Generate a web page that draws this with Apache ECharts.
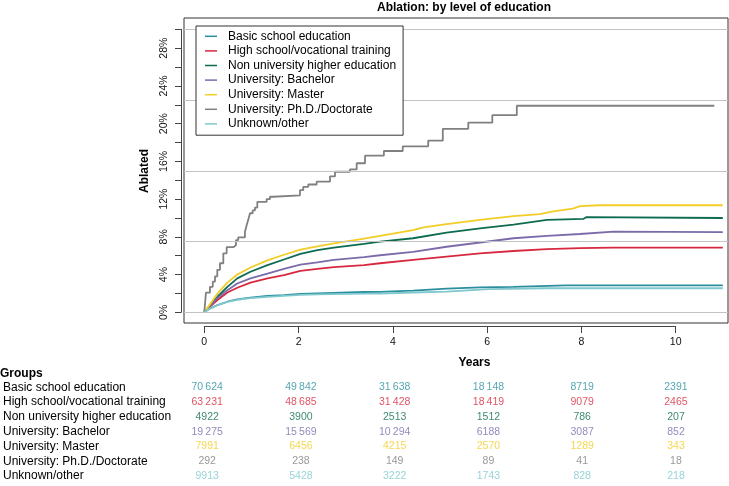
<!DOCTYPE html>
<html>
<head>
<meta charset="utf-8">
<script src="https://cdn.jsdelivr.net/npm/echarts@6/dist/echarts.min.js"></script>
<style>html,body{margin:0;padding:0;background:#fff}#c{width:729px;height:486px}</style>
</head>
<body>
<div id="c"></div>
<script>
// ---------- data ----------
const GROUPS = ['Basic school education','High school/vocational training','Non university higher education','University: Bachelor','University: Master','University: Ph.D./Doctorate','Unknown/other'];
const COLORS = ['#2A8E9E','#D7283F','#0D6B50','#7B6BAA','#F2CD25','#808080','#7FC8CD'];

const basic = [[0,0],[0.1,0.35],[0.28,0.77],[0.49,1.12],[0.7,1.38],[0.98,1.55],[1.34,1.73],[1.69,1.83],[2.04,1.95],[2.4,2.0],[3.39,2.15],[3.73,2.17],[4.43,2.3],[5.14,2.5],[5.85,2.65],[6.56,2.7],[7.67,2.85],[11.0,2.85]];
const high = [[0,0],[0.1,0.5],[0.28,1.3],[0.49,2.1],[0.7,2.6],[0.98,3.15],[1.34,3.6],[1.69,3.95],[2.04,4.4],[2.4,4.6],[2.75,4.8],[3.39,5.0],[3.73,5.2],[4.43,5.55],[5.14,5.9],[5.85,6.25],[6.56,6.5],[7.27,6.7],[7.97,6.8],[8.68,6.85],[11.0,6.85]];
const nonUni = [[0,0],[0.1,0.6],[0.28,1.65],[0.49,2.7],[0.7,3.6],[0.98,4.3],[1.34,5.0],[1.69,5.6],[2.04,6.2],[2.4,6.6],[2.75,6.85],[3.39,7.25],[3.73,7.5],[4.43,7.85],[5.14,8.45],[5.85,8.9],[6.56,9.3],[7.27,9.8],[8.04,9.9],[8.11,10.1],[11.0,10.0]];
const bachelor = [[0,0],[0.1,0.55],[0.28,1.5],[0.49,2.35],[0.7,3.05],[0.98,3.6],[1.34,4.1],[1.69,4.6],[2.04,5.05],[2.4,5.3],[2.75,5.55],[3.39,5.85],[3.73,6.05],[4.43,6.4],[5.14,6.95],[5.85,7.4],[6.56,7.85],[7.27,8.1],[7.97,8.3],[8.68,8.55],[11.0,8.5]];
const master = [[0,0],[0.1,0.7],[0.28,2.0],[0.49,3.15],[0.7,4.0],[0.98,4.75],[1.34,5.5],[1.69,6.1],[2.04,6.65],[2.4,7.0],[2.75,7.3],[3.39,7.8],[3.73,8.1],[4.43,8.7],[4.65,9.0],[5.14,9.35],[5.85,9.8],[6.56,10.2],[7.12,10.4],[7.4,10.7],[7.82,11.0],[7.97,11.25],[8.39,11.35],[11.0,11.35]];
const phd = [[0,0],[0.036,2.08],[0.12,2.7],[0.18,3.25],[0.227,3.8],[0.276,4.5],[0.333,5.2],[0.404,6.25],[0.475,6.9],[0.616,7.1],[0.672,7.66],[0.72,7.95],[0.863,8.55],[0.9,9.25],[0.933,9.8],[0.97,10.5],[1.026,10.8],[1.075,11.1],[1.125,11.7],[1.323,12.0],[1.394,12.25],[1.465,12.4],[2.03,12.95],[2.1,13.3],[2.206,13.55],[2.384,13.85],[2.667,14.4],[2.773,14.9],[3.09,15.15],[3.233,15.8],[3.41,16.6],[3.81,17.1],[4.21,17.6],[4.75,18.2],[5.06,19.45],[5.6,20.1],[6.11,20.9],[6.63,21.9],[10.82,21.9]];
const unknown = [[0,0],[0.1,0.33],[0.28,0.75],[0.49,1.1],[0.7,1.33],[0.98,1.5],[1.34,1.63],[1.69,1.75],[2.04,1.85],[2.4,1.9],[3.39,1.97],[3.73,1.97],[4.43,2.1],[5.14,2.2],[6.04,2.45],[7.27,2.55],[11.0,2.55]];
const CURVES = [basic, high, nonUni, bachelor, master, phd, unknown];

const RISK_TIMES = [0,2,4,6,8,10];
const basicN = [70624,49842,31638,18148,8719,2391];
const highN = [63231,48685,31428,18419,9079,2465];
const nonUniN = [4922,3900,2513,1512,786,207];
const bachelorN = [19275,15569,10294,6188,3087,852];
const masterN = [7991,6456,4215,2570,1289,343];
const phdN = [292,238,149,89,41,18];
const unknownN = [9913,5428,3222,1743,828,218];
const AT_RISK = [basicN, highN, nonUniN, bachelorN, masterN, phdN, unknownN];

const X_TICKS = [0,2,4,6,8,10];
const Y_TICKS = [0,2,4,6,8,10,12,14,16,18,20,22,24,26,28,30];
const Y_LABELS = [0,4,8,12,16,20,24,28];
const GRID_LINES = [0,7.5,15,22.5,30];

const TITLE = 'Ablation: by level of education';
const X_NAME = 'Years';
const Y_NAME = 'Ablated';
const TABLE_TITLE = 'Groups';

// ---------- chart ----------
const FONT = 'Liberation Sans, Arial, Helvetica, sans-serif';
const XMIN = -0.43, XMAX = 11.11, YMIN = -1.134, YMAX = 31.2;
const AX = '#444';

function fmt(n){ const s = String(n); return n >= 10000 ? s.slice(0,-3) + '\u2009' + s.slice(-3) : s; }

const series = [];
series.push({
  type:'line', xAxisIndex:0, yAxisIndex:0, data:[], silent:true, z:1,
  markLine:{silent:true, symbol:['none','none'], label:{show:false}, animation:false,
    lineStyle:{color:'#c4c4c4', width:1, type:'solid'},
    data: GRID_LINES.map(v => ({yAxis:v}))}
});
CURVES.forEach((d,i) => {
  series.push({
    name: GROUPS[i], type:'line', xAxisIndex:0, yAxisIndex:0, data:d,
    showSymbol:false, symbol:'none', step: i === 5 ? 'end' : false,
    lineStyle:{color:COLORS[i], width:1.8}, itemStyle:{color:COLORS[i]}, z:3
  });
});
AT_RISK.forEach((arr,g) => {
  series.push({
    type:'scatter', xAxisIndex:2, yAxisIndex:2, silent:true, symbolSize:1,
    itemStyle:{color:'rgba(0,0,0,0)'},
    label:{show:true, position:'inside', color:COLORS[g], fontSize:10.5, fontFamily:FONT,
      formatter: p => fmt(p.value[2])},
    data: RISK_TIMES.map((t,i) => [t, GROUPS[g], arr[i]])
  });
});

const option = {
  animation:false,
  backgroundColor:'#fff',
  textStyle:{fontFamily:FONT},
  grid:[
    {left:184, top:18, width:544, height:305, show:true, borderColor:'#333', borderWidth:1, backgroundColor:'transparent', z:0},
    {left:204.3, top:29.3, width:471.4, height:283, show:false},
    {left:184, top:380, width:544, height:103.5, show:false}
  ],
  xAxis:[
    {gridIndex:0, type:'value', min:XMIN, max:XMAX, offset:4, position:'bottom',
      axisLine:{show:false, onZero:false},
      axisTick:{show:true, length:6, customValues:X_TICKS, lineStyle:{color:AX}},
      axisLabel:{show:true, customValues:X_TICKS, margin:10, fontSize:10.5, color:'#111', fontFamily:FONT},
      splitLine:{show:false}},
    {gridIndex:1, type:'value', min:0, max:10, offset:14.4, position:'bottom',
      axisLine:{show:true, onZero:false, lineStyle:{color:AX, width:1}},
      axisTick:{show:false}, axisLabel:{show:false}, splitLine:{show:false}},
    {gridIndex:2, type:'value', min:XMIN, max:XMAX, show:false, axisLine:{onZero:false}}
  ],
  yAxis:[
    {gridIndex:0, type:'value', min:YMIN, max:YMAX, offset:3, position:'left',
      axisLine:{show:false, onZero:false},
      axisTick:{show:true, length:6, customValues:Y_TICKS, lineStyle:{color:AX}},
      axisLabel:{show:true, customValues:Y_LABELS, rotate:90, margin:11, fontSize:10.5, color:'#111', fontFamily:FONT,
        formatter: v => v + '%'},
      splitLine:{show:false}},
    {gridIndex:1, type:'value', min:0, max:30, offset:23.3, position:'left',
      axisLine:{show:true, onZero:false, lineStyle:{color:AX, width:1}},
      axisTick:{show:false}, axisLabel:{show:false}, splitLine:{show:false}},
    {gridIndex:2, type:'category', data:GROUPS, inverse:true, position:'left',
      axisLine:{show:false, onZero:false}, axisTick:{show:false}, splitLine:{show:false},
      axisLabel:{interval:0, align:'left', margin:184, fontSize:12, color:'#000', fontFamily:FONT}}
  ],
  legend:{
    data:GROUPS, orient:'vertical', left:196, top:26, padding:[3,7,4,9], itemGap:0,
    itemWidth:12, itemHeight:1.5, icon:'rect', backgroundColor:'#fff', borderColor:'#333', borderWidth:1,
    selectedMode:false, z:10,
    textStyle:{fontSize:12, color:'#000', fontFamily:FONT, lineHeight:14.6, padding:[0,0,0,6]}
  },
  graphic:[
    {type:'text', x:464, y:8, z:20, style:{text:TITLE, font:'bold 12px ' + FONT, fill:'#000', align:'center', verticalAlign:'middle'}},
    {type:'text', x:474.4, y:362.3, z:20, style:{text:X_NAME, font:'bold 12px ' + FONT, fill:'#000', align:'center', verticalAlign:'middle'}},
    {type:'text', x:145, y:171, rotation:Math.PI/2, z:20, style:{text:Y_NAME, font:'bold 12px ' + FONT, fill:'#000', align:'center', verticalAlign:'middle'}},
    {type:'text', x:0, y:374, z:20, style:{text:TABLE_TITLE, font:'bold 12px ' + FONT, fill:'#000', align:'left', verticalAlign:'middle'}}
  ],
  series: series
};
const chart = echarts.init(document.getElementById('c'), null, {renderer:'canvas'});
chart.setOption(option);
</script>
</body>
</html>
